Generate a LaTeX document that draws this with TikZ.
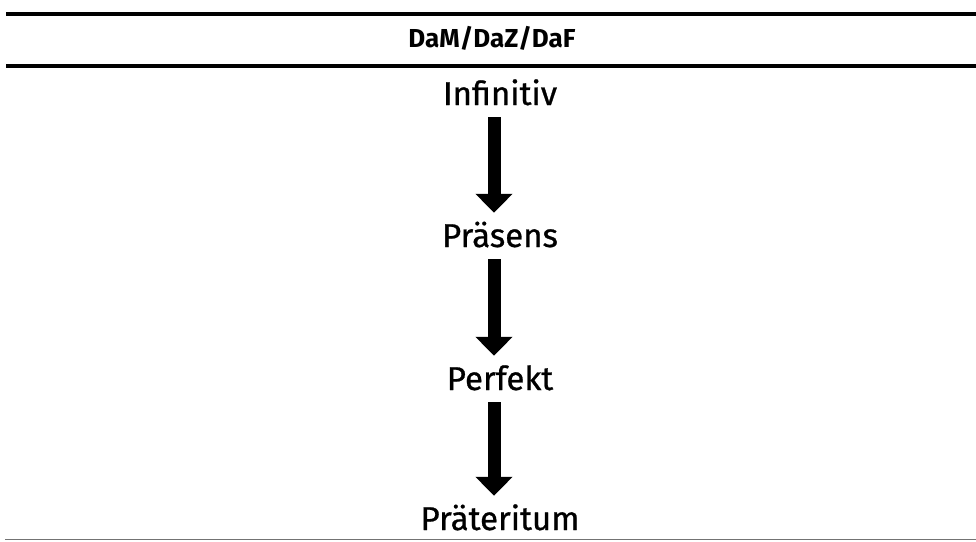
\documentclass[tikz,border=0pt]{standalone}
\usepackage{fontspec}
\setmainfont{Fira Sans}
\newfontfamily\bodyfont{Fira Sans}[FakeBold=0.8]
\usetikzlibrary{arrows.meta}
\begin{document}
\begin{tikzpicture}[x=1pt,y=-1pt,
  lbl/.style={font=\bodyfont\fontsize{33}{33}\selectfont, inner sep=0pt, anchor=base, text height=22pt, text depth=0pt},
  hdr/.style={font=\bfseries\fontsize{26}{26}\selectfont, inner sep=0pt, anchor=base},
  arr/.style={line width=13pt, -{Triangle[width=36pt,length=19pt]}, shorten <=12pt, shorten >=12pt},
  rule/.style={line width=#1}
]
\useasboundingbox (0,0) rectangle (976,541);
\draw[rule=4pt] (6,14) -- (976,14);
\draw[rule=3.5pt] (6,66) -- (976,66);
\draw[rule=1.5pt, black!55] (5,539.5) -- (976,539.5);
\node[hdr] (h) at (492,47) {DaM/DaZ/DaF};
\node[lbl] (inf) at (500,105) {Infinitiv};
\node[lbl] (pras) at (500,247) {Präsens};
\node[lbl] (perf) at (500,390) {Perfekt};
\node[lbl] (prat) at (500,530) {Präteritum};
\draw[arr] ([xshift=-6pt]inf.south) -- ([xshift=-6pt]pras.north);
\draw[arr] ([xshift=-6pt]pras.south) -- ([xshift=-6pt]perf.north);
\draw[arr] ([xshift=-6pt]perf.south) -- ([xshift=-6pt]prat.north);
\end{tikzpicture}
\end{document}
